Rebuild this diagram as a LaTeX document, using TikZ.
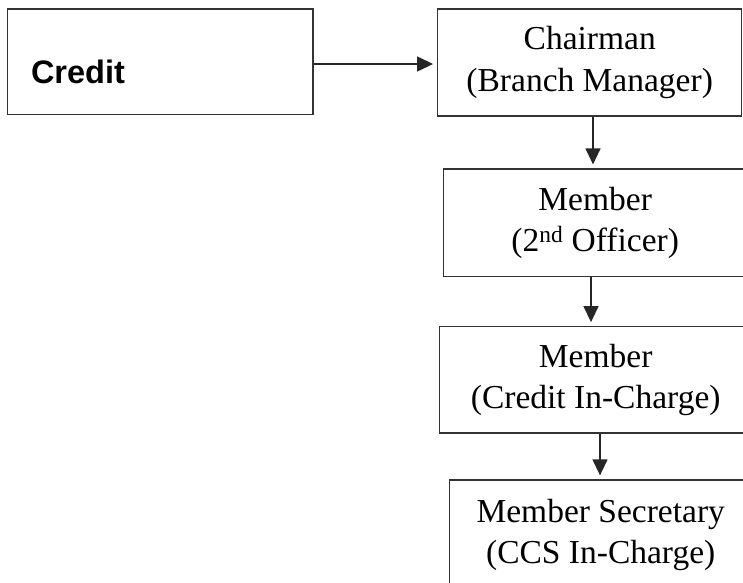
\documentclass[tikz,border=0pt]{standalone}
\usepackage{fontspec}
\setmainfont{Liberation Serif}
\newfontfamily\arialfont{Liberation Sans}
\usetikzlibrary{arrows.meta}
\begin{document}
\begin{tikzpicture}[x=1pt,y=-1pt,
  boxstyle/.style={draw=black!80,line width=1.3pt,rectangle,inner sep=0pt,align=center,
    font=\fontsize{33.5}{41.5}\selectfont},
  arr/.style={draw=black!85,line width=1.3pt,-{Triangle[length=16pt,width=15pt]},shorten >=4pt}]
\useasboundingbox (0,0) rectangle (743,582);
\clip (0,0) rectangle (743,582);
\fill[white] (0,0) rectangle (743,582);
\node[boxstyle,minimum width=305.5pt,minimum height=105.5pt,text width=258.5pt,align=left,
  text height=43pt,text depth=0pt,font=\arialfont\bfseries\fontsize{32.5}{38}\selectfont]
  (credit) at (160.25,61.75) {Credit};
\node[boxstyle,minimum width=304pt,minimum height=107pt] (chair) at (589.7,62.5)
  {Chairman\\(Branch Manager)};
\node[boxstyle,minimum width=303.7pt,minimum height=107.7pt] (m1) at (595.2,222.9)
  {Member\\(2\textsuperscript{nd} Officer)};
\node[boxstyle,minimum width=312.7pt,minimum height=106.3pt] (m2) at (595.7,379.9)
  {Member\\(Credit In-Charge)};
\node[boxstyle,minimum width=302.7pt,minimum height=110pt] (ms) at (600.7,535)
  {Member Secretary\\(CCS In-Charge)};
\draw[arr] (credit.east |- 0,64) -- (chair.west |- 0,64);
\draw[arr] (chair.south -| 593,0) -- (m1.north -| 593,0);
\draw[arr] (m1.south -| 591,0) -- (m2.north -| 591,0);
\draw[arr] (m2.south -| 600,0) -- (ms.north -| 600,0);
\end{tikzpicture}
\end{document}
